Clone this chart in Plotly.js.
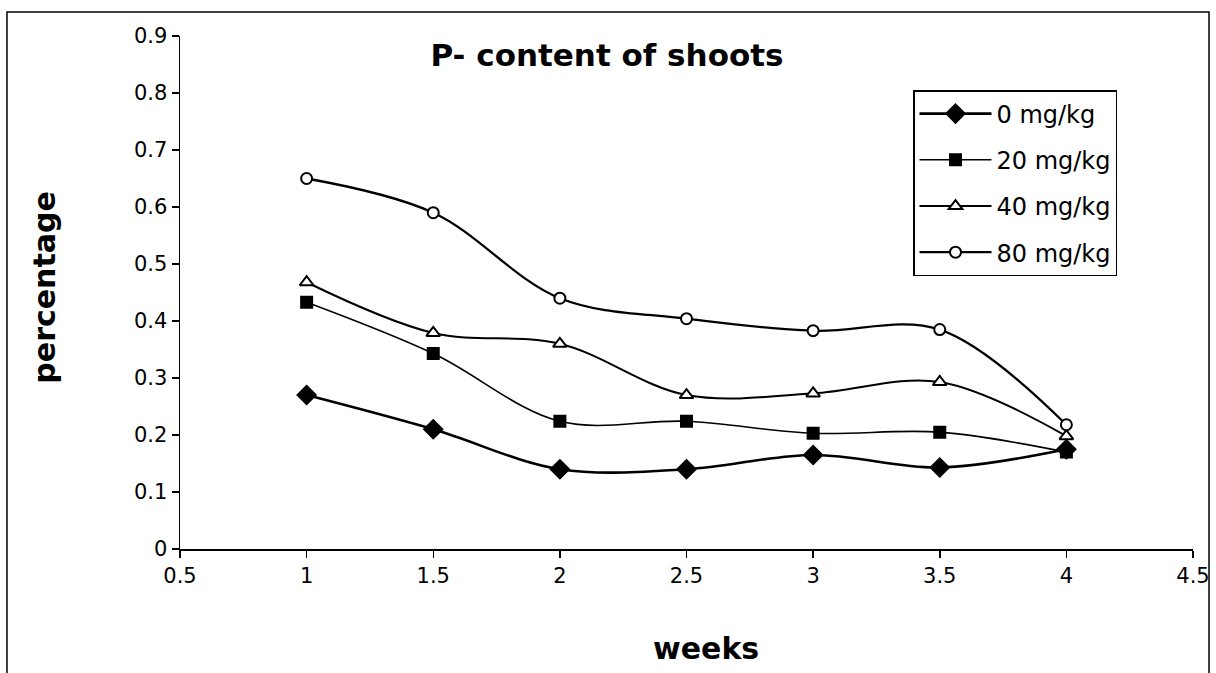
<!DOCTYPE html>
<html>
<head>
<meta charset="utf-8">
<script src="https://cdn.plot.ly/plotly-3.0.1.min.js"></script>
<style>
  html, body { margin: 0; padding: 0; background: #fff; }
  #chart { width: 1216px; height: 673px; }
</style>
</head>
<body>
<div id="chart"></div>
<script>
// Data
const weeks = [1, 1.5, 2, 2.5, 3, 3.5, 4];
const seriesNames = ["0 mg/kg", "20 mg/kg", "40 mg/kg", "80 mg/kg"];
const p0  = [0.27, 0.21, 0.14, 0.14, 0.165, 0.143, 0.175];
const p20 = [0.433, 0.343, 0.224, 0.224, 0.203, 0.205, 0.17];
const p40 = [0.468, 0.379, 0.36, 0.27, 0.273, 0.293, 0.198];
const p80 = [0.65, 0.59, 0.44, 0.404, 0.383, 0.385, 0.218];
const yTicks = [0, 0.1, 0.2, 0.3, 0.4, 0.5, 0.6, 0.7, 0.8, 0.9];
const xTicks = [0.5, 1, 1.5, 2, 2.5, 3, 3.5, 4, 4.5];

const FONT = "DejaVu Sans, Liberation Sans, Arial, sans-serif";

function mk(name, y, symbol, fill, size, lw, group) {
  return {
    x: weeks, y: y, name: name, type: "scatter", mode: "lines+markers",
    legendgroup: group,
    line: { color: "#000", width: lw, shape: "spline", smoothing: 1 },
    marker: { symbol: symbol, size: size, color: fill, line: { color: "#000", width: 2 } }
  };
}

const traces = [
  mk(seriesNames[0], p0, "diamond", "#000", 14, 2.6, "g0"),
  mk(seriesNames[1], p20, "square", "#000", 11, 1.6, "g1"),
  mk(seriesNames[2], p40, "triangle-up", "#fff", 12, 2, "g2"),
  mk(seriesNames[3], p80, "circle", "#fff", 11, 2.3, "g3")
];

const layout = {
  width: 1216, height: 673,
  paper_bgcolor: "#fff", plot_bgcolor: "#fff",
  margin: { l: 180, r: 23, t: 36, b: 124 },
  showlegend: true,
  font: { family: FONT, color: "#000" },
  title: {
    text: "<b>P- content of shoots</b>",
    font: { family: FONT, size: 31, color: "#000" },
    xref: "paper", x: 0.4215, xanchor: "center",
    yref: "container", y: 0.918, yanchor: "middle"
  },
  xaxis: {
    range: [0.5, 4.5], tickvals: xTicks, ticktext: xTicks.map(String),
    showgrid: false, zeroline: false, showline: true, linecolor: "#000", linewidth: 1.5,
    ticks: "outside", ticklen: 7, tickcolor: "#000", tickwidth: 1.5,
    tickfont: { family: FONT, size: 21, color: "#000" }
  },
  yaxis: {
    range: [0, 0.9], tickvals: yTicks, ticktext: yTicks.map(String),
    showgrid: false, zeroline: false, showline: true, linecolor: "#000", linewidth: 1.5,
    ticks: "outside", ticklen: 7, tickcolor: "#000", tickwidth: 1.5,
    tickfont: { family: FONT, size: 21, color: "#000" }
  },
  legend: {
    x: 0.7236, y: 0.8947, xanchor: "left", yanchor: "top",
    bgcolor: "#fff", bordercolor: "#000", borderwidth: 1.5,
    font: { family: FONT, size: 24, color: "#000" },
    itemwidth: 72,
    tracegroupgap: 12, traceorder: "grouped"
  },
  annotations: [
    { text: "<b>weeks</b>", xref: "paper", yref: "paper", x: 0.519, y: -0.193,
      xanchor: "center", yanchor: "middle", showarrow: false,
      font: { family: FONT, size: 30, color: "#000" } },
    { text: "<b>percentage</b>", xref: "paper", yref: "paper", x: -0.134, y: 0.51,
      xanchor: "center", yanchor: "middle", textangle: -90, showarrow: false,
      font: { family: FONT, size: 30, color: "#000" } }
  ],
  shapes: [
    { type: "rect", xref: "paper", yref: "paper", x0: -0.1708, x1: 1.0158, y0: -0.3, y1: 1.0468,
      line: { color: "#000", width: 1.5 }, fillcolor: "rgba(0,0,0,0)", layer: "below" }
  ]
};

Plotly.newPlot("chart", traces, layout, { displayModeBar: false, staticPlot: true });
</script>
</body>
</html>
